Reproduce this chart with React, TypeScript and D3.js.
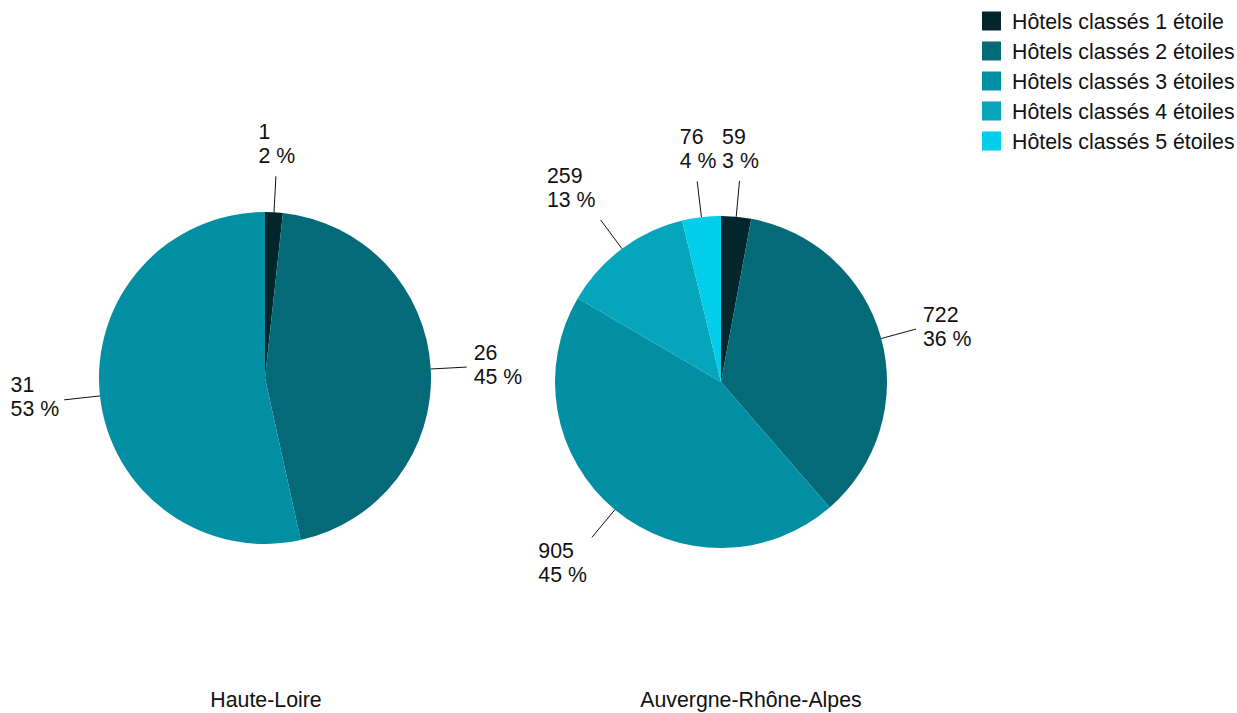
import { useEffect, useRef } from "react";
import * as d3 from "d3";

const categories = [
  "Hôtels classés 1 étoile",
  "Hôtels classés 2 étoiles",
  "Hôtels classés 3 étoiles",
  "Hôtels classés 4 étoiles",
  "Hôtels classés 5 étoiles",
];
const colors = ["#03262c", "#046a78", "#028fa3", "#05a6bc", "#02cdea"];
const regions = ["Haute-Loire", "Auvergne-Rhône-Alpes"];
const hauteLoire = [1, 26, 31, 0, 0];
const auvergne = [59, 722, 905, 259, 76];

const FONT = "'Liberation Sans', Arial, sans-serif";
const FS = 21.3;

const HotelPies = () => {
  const svgRef = useRef<SVGSVGElement>(null);

  useEffect(() => {
    if (!svgRef.current) return;
    const svg = d3.select(svgRef.current);
    svg.selectAll("*").remove();

    const r = 166;
    const pies = [
      { name: regions[0], values: hauteLoire, cx: 265, cy: 378, tx: 266 },
      { name: regions[1], values: auvergne, cx: 721, cy: 382, tx: 751 },
    ];

    const pie = d3.pie<number>().sort(null).value((d) => d);
    const arc = d3.arc<d3.PieArcDatum<number>>().innerRadius(0).outerRadius(r);

    pies.forEach((p) => {
      const total = d3.sum(p.values);
      const arcs = pie(p.values);
      const g = svg.append("g").attr("transform", `translate(${p.cx},${p.cy})`);

      g.selectAll("path")
        .data(arcs.filter((a) => a.value > 0))
        .join("path")
        .attr("d", arc)
        .attr("fill", (d) => colors[d.index]);

      arcs.filter((a) => a.value > 0).forEach((a) => {
        const ang = (a.startAngle + a.endAngle) / 2;
        const s = Math.sin(ang), c = Math.cos(ang);
        const x1 = r * s, y1 = -r * c;
        const x2 = (r + 36) * s, y2 = -(r + 36) * c;
        g.append("line")
          .attr("x1", x1).attr("y1", y1)
          .attr("x2", x2).attr("y2", y2)
          .attr("stroke", "#111")
          .attr("stroke-width", 1);

        const lab = g.append("text")
          .attr("font-family", FONT)
          .attr("font-size", FS)
          .attr("fill", "#111");
        lab.append("tspan").attr("x", 0).attr("y", 0).text(String(a.value));
        lab.append("tspan").attr("x", 0).attr("y", 24)
          .text(`${Math.round((a.value / total) * 100)} %`);
        const w = (lab.node() as SVGTextElement).getBBox().width;

        let lx: number;
        if (s > 0.3) lx = x2 + 7;
        else if (s < -0.3) lx = x2 - 5 - w;
        else lx = x2 - w / 2 + 1;

        let by: number;
        if (c > 0.5) by = y2 - 13 - 24;
        else if (c < -0.5) by = y2 + 21;
        else by = y2 - 7.5;

        lab.attr("transform", `translate(${lx},${by})`);
      });

      svg.append("text")
        .attr("x", p.tx)
        .attr("y", 707)
        .attr("text-anchor", "middle")
        .attr("font-family", FONT)
        .attr("font-size", FS)
        .attr("fill", "#111")
        .text(p.name);
    });

    const legend = svg.append("g").attr("transform", "translate(982,11.5)");
    categories.forEach((cat, i) => {
      const row = legend.append("g").attr("transform", `translate(0,${i * 30})`);
      row.append("rect").attr("width", 19).attr("height", 19).attr("fill", colors[i]);
      row.append("text")
        .attr("x", 30)
        .attr("y", 17)
        .attr("font-family", FONT)
        .attr("font-size", FS)
        .attr("fill", "#111")
        .text(cat);
    });
  }, []);

  return (
    <svg
      ref={svgRef}
      width={1237}
      height={713}
      style={{ position: "absolute", left: 0, top: 0, background: "#fff" }}
    />
  );
};

export default function App() {
  return <HotelPies />;
}
